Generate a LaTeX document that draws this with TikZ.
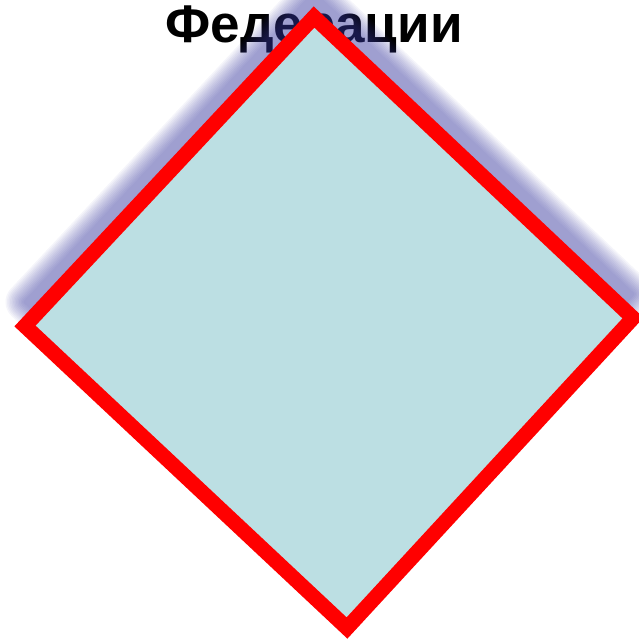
\documentclass[tikz,border=0pt]{standalone}
\usepackage{fontspec}
\setmainfont{Liberation Sans}
\usepackage{xcolor}
\usepackage{tikz}
\usetikzlibrary{positioning}

\definecolor{signfill}{RGB}{188,223,227}
\definecolor{shadowblue}{RGB}{60,60,160}

\begin{document}
\begin{tikzpicture}[x=1pt,y=-1pt]
\tikzstyle{title} = [anchor=base, font=\bfseries\fontsize{53}{60}\selectfont]
\tikzstyle{shadowlayer} = [fill=shadowblue, draw=shadowblue, line join=round]
\tikzstyle{sign} = [fill=signfill, draw=red, line width=15pt, line join=miter]

\useasboundingbox (0,0) rectangle (638,640);

\node (head) [title] at (314,42) {Федерации};

% blurred shadow, shifted up
\foreach \w in {3,6,...,39}
{
  \begin{scope}[transparency group, opacity=0.052]
    \filldraw [shadowlayer, line width=\w pt, yshift=24pt] (314,17) -- (633,318) -- (347,628) -- (25,326) -- cycle;
  \end{scope}
}

\filldraw [sign] (314,17) -- (633,318) -- (347,628) -- (25,326) -- cycle;
\end{tikzpicture}
\end{document}
